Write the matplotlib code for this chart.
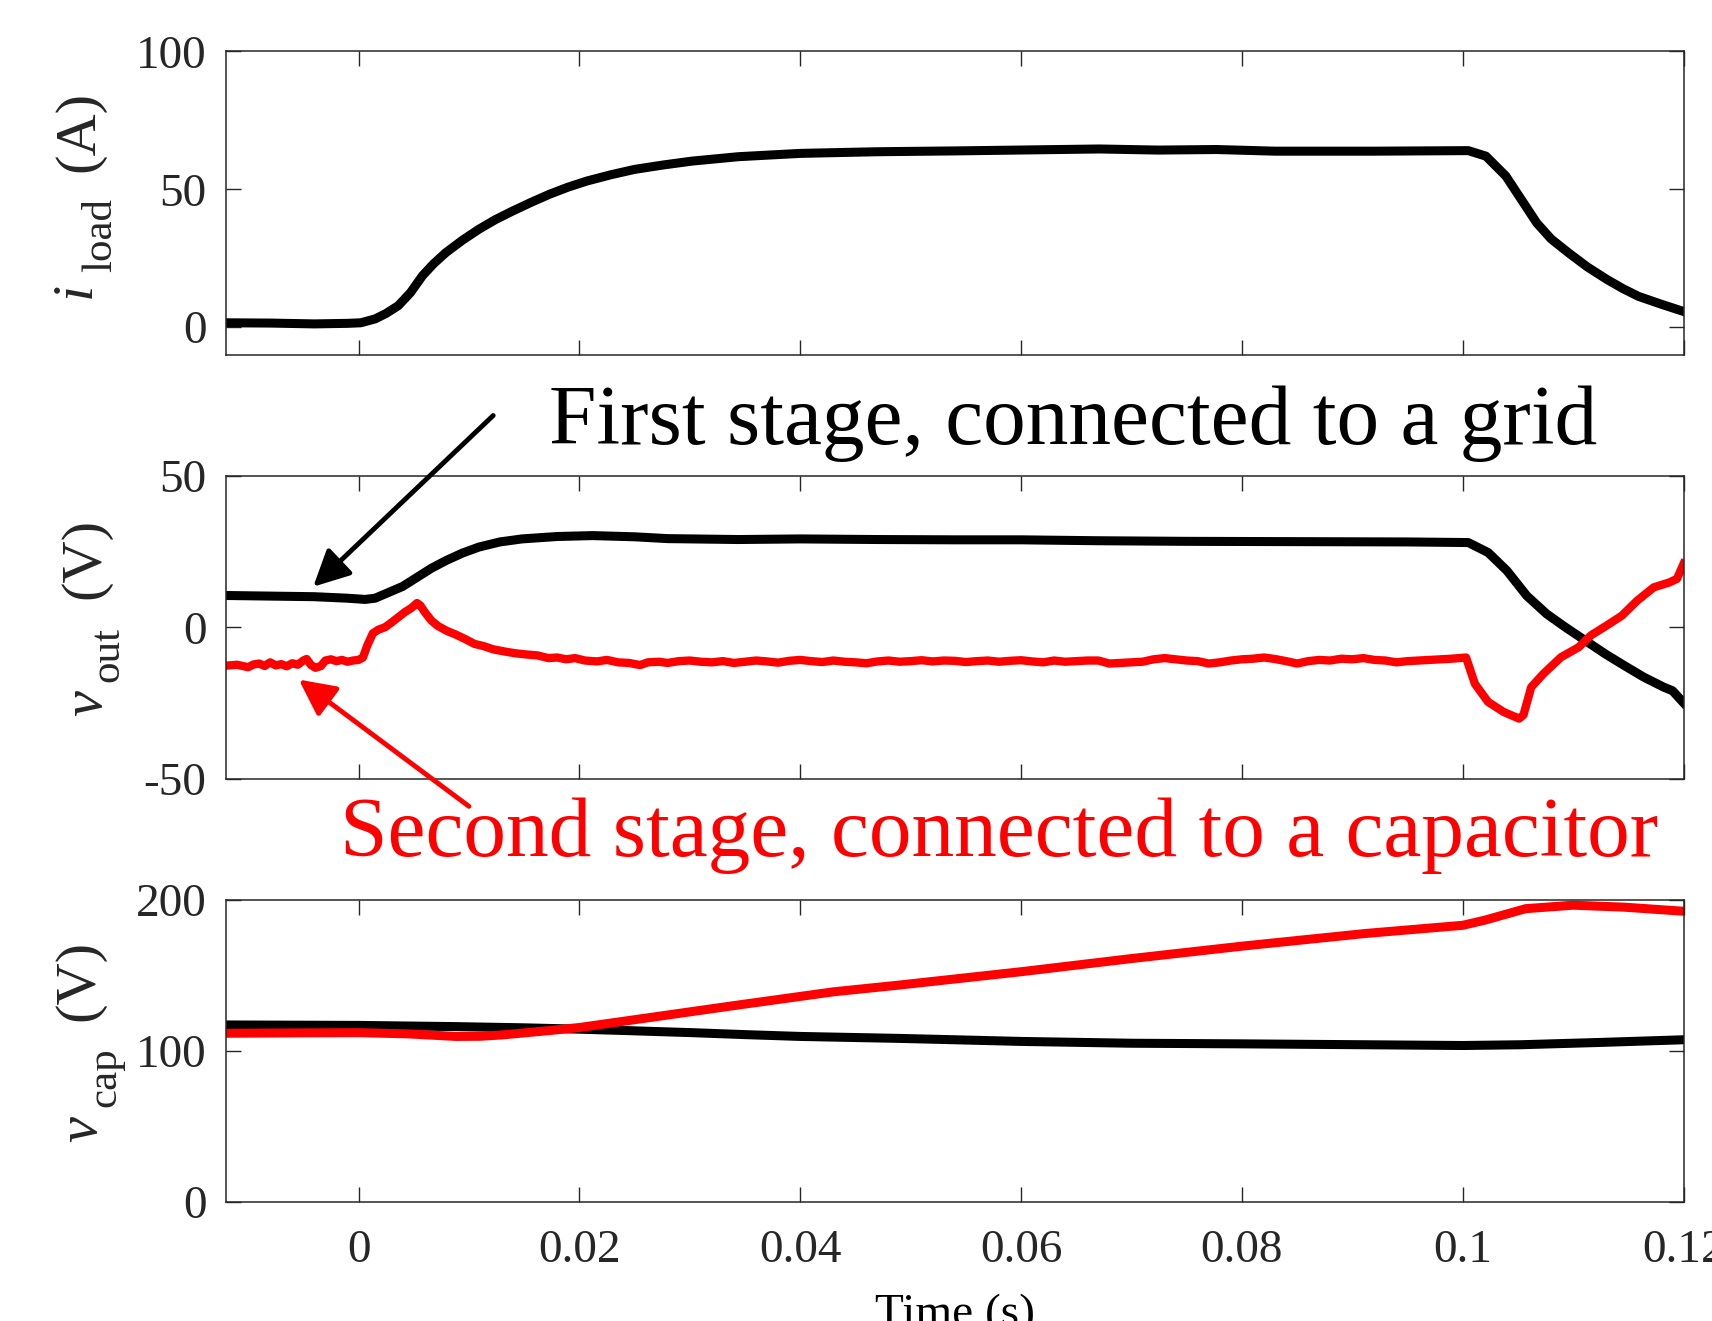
import matplotlib
matplotlib.use('Agg')
import matplotlib.pyplot as plt

plt.rcParams['font.family'] = ['Liberation Serif', 'DejaVu Serif']
plt.rcParams['axes.unicode_minus'] = False

# ---- data ----
# load current, first stage (A)
t_iload = [-0.012, -0.008, -0.004, -0.001, 0.0002, 0.0015, 0.0025, 0.0036, 0.0047, 0.0058,
           0.0068, 0.0079, 0.0094, 0.0109, 0.0124, 0.0139, 0.0156, 0.0173, 0.019, 0.0207,
           0.0228, 0.025, 0.0276, 0.0302, 0.0344, 0.04, 0.047, 0.0541, 0.0671, 0.0724,
           0.0777, 0.083, 0.092, 0.1005, 0.1021, 0.1039, 0.1053, 0.1067, 0.108, 0.1096,
           0.1113, 0.1131, 0.1145, 0.1159, 0.118, 0.12]
i_load = [1.6, 1.5, 1.2, 1.4, 1.6, 3.0, 5.0, 7.8, 12.5, 18.7,
          23.0, 27.0, 31.5, 35.5, 39.0, 42.0, 45.2, 48.2, 50.8, 53.0,
          55.2, 57.2, 58.8, 60.2, 61.8, 63.0, 63.6, 63.9, 64.6, 64.2,
          64.4, 63.8, 63.8, 64.0, 62.0, 54.8, 46.3, 37.8, 32.0, 26.9,
          21.8, 17.2, 14.0, 11.2, 8.3, 5.7]

# output voltage, first stage (V)
t_vout1 = [-0.012, -0.008, -0.004, -0.001, 0.0006, 0.0015, 0.0024, 0.004, 0.0053, 0.0066,
           0.0079, 0.0094, 0.0109, 0.0128, 0.0148, 0.018, 0.0212, 0.025, 0.028, 0.0344,
           0.04, 0.047, 0.054, 0.06, 0.067, 0.075, 0.085, 0.095, 0.1005, 0.1023,
           0.104, 0.1058, 0.1076, 0.1093, 0.1111, 0.1129, 0.1146, 0.1164, 0.1182, 0.119,
           0.12]
v_out1 = [10.5, 10.3, 10.1, 9.6, 9.2, 9.6, 11.0, 13.5, 16.5, 19.5,
          22.0, 24.5, 26.5, 28.2, 29.2, 30.0, 30.3, 29.9, 29.3, 29.0,
          29.2, 29.0, 28.9, 28.9, 28.6, 28.4, 28.3, 28.2, 28.0, 24.7,
          18.7, 10.4, 4.4, 0.0, -4.4, -8.8, -12.6, -16.5, -19.8, -21.0,
          -25.0]

# output voltage, second stage (V)
t_vout2 = [-0.012, -0.011, -0.010, -0.0095, -0.009, -0.0085, -0.008, -0.0075, -0.007, -0.0065,
           -0.006, -0.0055, -0.005, -0.0047, -0.0043, -0.0039, -0.0034, -0.003, -0.0025, -0.002,
           -0.0015, -0.001, -0.0005, 0.0, 0.0004, 0.0008, 0.0013, 0.0018, 0.0024, 0.003,
           0.0036, 0.0042, 0.0048, 0.0053, 0.0056, 0.006, 0.0066, 0.0072, 0.008, 0.0088,
           0.0096, 0.0105, 0.0113, 0.0122, 0.0132, 0.0142, 0.0152, 0.0162, 0.0172, 0.018,
           0.0188, 0.0196, 0.0205, 0.0216, 0.0225, 0.0235, 0.0245, 0.0255, 0.0262, 0.0272,
           0.028, 0.029, 0.030, 0.031, 0.032, 0.033, 0.034, 0.035, 0.036, 0.037,
           0.038, 0.039, 0.040, 0.041, 0.042, 0.043, 0.044, 0.045, 0.046, 0.047,
           0.048, 0.049, 0.050, 0.051, 0.052, 0.053, 0.054, 0.055, 0.056, 0.057,
           0.058, 0.059, 0.060, 0.061, 0.062, 0.063, 0.064, 0.065, 0.066, 0.067,
           0.068, 0.069, 0.070, 0.071, 0.072, 0.073, 0.074, 0.075, 0.076, 0.077,
           0.078, 0.079, 0.080, 0.081, 0.082, 0.083, 0.084, 0.085, 0.086, 0.087,
           0.088, 0.089, 0.090, 0.091, 0.092, 0.093, 0.094, 0.095, 0.096, 0.097,
           0.098, 0.099, 0.1003, 0.1011, 0.1023, 0.1037, 0.1051, 0.1055, 0.1062, 0.1073,
           0.1089, 0.1105, 0.1116, 0.113, 0.1144, 0.1158, 0.1173, 0.1187, 0.1194, 0.1197,
           0.120]
v_out2 = [-12.7, -12.4, -13.2, -12.3, -12.0, -12.8, -11.6, -12.6, -12.2, -12.9,
          -11.9, -12.4, -11.0, -10.5, -12.5, -13.4, -12.8, -11.0, -10.6, -11.2,
          -10.8, -11.4, -11.0, -10.8, -10.0, -6.0, -2.0, -0.8, 0.0, 1.6,
          3.3, 5.0, 6.4, 8.0, 7.2, 5.0, 2.2, 0.4, -1.2, -2.4,
          -3.8, -5.5, -6.2, -7.3, -8.0, -8.6, -9.0, -9.3, -10.2, -10.0,
          -10.6, -10.2, -11.0, -11.3, -10.8, -11.6, -11.8, -12.5, -11.6, -11.4,
          -11.8, -11.2, -11.0, -11.4, -11.6, -11.2, -11.8, -11.4, -11.0, -11.3,
          -11.7, -11.1, -10.8, -11.2, -11.5, -11.0, -11.4, -11.6, -11.9, -11.3,
          -11.0, -11.4, -11.2, -10.9, -11.3, -11.0, -11.1, -11.5, -11.2, -11.0,
          -11.4, -11.1, -10.9, -11.3, -11.6, -11.0, -11.4, -11.2, -11.0, -11.0,
          -12.0, -11.8, -11.6, -11.4, -10.6, -10.2, -10.6, -11.0, -11.2, -12.0,
          -11.6, -11.0, -10.6, -10.4, -10.0, -10.5, -11.2, -12.0, -11.2, -10.8,
          -11.0, -10.4, -10.6, -10.2, -10.8, -11.0, -11.6, -11.2, -11.0, -10.8,
          -10.6, -10.4, -10.0, -18.7, -24.7, -28.0, -30.2, -29.0, -19.8, -15.4,
          -9.9, -6.6, -2.7, 0.5, 3.8, 8.8, 13.2, 14.8, 16.0, 18.5,
          21.0]

# capacitor voltage (V)
t_vcap1 = [-0.012, 0.0, 0.0088, 0.015, 0.02, 0.025, 0.0302, 0.035, 0.04, 0.049,
           0.054, 0.06, 0.07, 0.08, 0.0912, 0.1, 0.1052, 0.1123, 0.12]
v_cap1 = [117.1, 116.8, 116.0, 115.2, 114.3, 113.2, 112.0, 110.7, 109.5, 108.2,
          107.3, 106.2, 105.0, 104.6, 104.0, 103.5, 104.0, 105.5, 107.3]

t_vcap2 = [-0.012, -0.004, 0.0, 0.0045, 0.0088, 0.011, 0.013, 0.0173, 0.02, 0.0259,
           0.0344, 0.043, 0.049, 0.054, 0.06, 0.07, 0.08, 0.0912, 0.1, 0.102,
           0.1057, 0.11, 0.1146, 0.12]
v_cap2 = [111.6, 111.9, 112.0, 111.2, 109.5, 109.6, 110.5, 113.4, 115.4, 121.5,
          130.3, 139.0, 143.5, 147.5, 152.3, 161.0, 169.2, 177.6, 183.0, 186.4,
          194.0, 196.3, 195.0, 192.3]

x_ticks = [0, 0.02, 0.04, 0.06, 0.08, 0.1, 0.12]
x_ticklabels = ['0', '0.02', '0.04', '0.06', '0.08', '0.1', '0.12']

W, H = 1712, 1321
fig = plt.figure(figsize=(W / 100, H / 100), dpi=100)

left = 226 / W
width = (1683.6 - 226) / W
ax1 = fig.add_axes([left, 1 - 354.8 / H, width, 303.5 / H])
ax2 = fig.add_axes([left, 1 - 778.5 / H, width, 302.5 / H])
ax3 = fig.add_axes([left, 1 - 1202 / H, width, 302.4 / H])

spine_c = '#262626'
lw = 6.5
for ax in (ax1, ax2, ax3):
    ax.set_xlim(-0.012, 0.12)
    ax.set_xticks(x_ticks)
    ax.tick_params(direction='in', length=10.5, width=1.0, colors=spine_c,
                   labelsize=34, top=True, right=True, pad=14)
    for s in ax.spines.values():
        s.set_color(spine_c)
        s.set_linewidth(1.1)

ax1.plot(t_iload, i_load, color='k', lw=lw)
ax1.set_ylim(-10, 100)
ax1.set_yticks([0, 50, 100])
ax1.set_xticklabels([])

ax2.plot(t_vout1, v_out1, color='k', lw=lw)
ax2.plot(t_vout2, v_out2, color='#ff0000', lw=6)
ax2.set_ylim(-50, 50)
ax2.set_yticks([-50, 0, 50])
ax2.set_xticklabels([])

ax3.plot(t_vcap1, v_cap1, color='k', lw=lw)
ax3.plot(t_vcap2, v_cap2, color='#ff0000', lw=lw)
ax3.set_ylim(0, 200)
ax3.set_yticks([0, 100, 200])
ax3.set_xticklabels(x_ticklabels)
ax3.tick_params(axis='x', pad=20)
ax3.set_xlabel('Time (s)', fontsize=34, labelpad=15)


# y labels built from pieces: italic symbol, lowered subscript, unit
def ylabel_parts(sym, sub, unit, p_sym, p_sub, p_unit):
    kw = dict(rotation=90, ha='center', va='center', color='#262626')
    fig.text(p_sym[0] / W, 1 - p_sym[1] / H, sym, fontsize=42, fontstyle='italic', **kw)
    fig.text(p_sub[0] / W, 1 - p_sub[1] / H, sub, fontsize=31, **kw)
    fig.text(p_unit[0] / W, 1 - p_unit[1] / H, unit, fontsize=42, **kw)


ylabel_parts('i', 'load', '(A)', (76, 290), (101, 235), (79, 131))
ylabel_parts('v', 'out', '(V)', (87, 703), (108, 654), (85, 558))
ylabel_parts('v', 'cap', '(V)', (82, 1129), (105, 1077), (79, 980))

# annotations
ax2.annotate('', xy=(-0.0041, 13.4), xytext=(0.0122, 70.0),
             arrowprops=dict(arrowstyle='-|>', color='k', lw=3.5, mutation_scale=55,
                             shrinkA=0, shrinkB=0),
             annotation_clip=False)
ax2.annotate('', xy=(-0.0054, -17.3), xytext=(0.0100, -59.2),
             arrowprops=dict(arrowstyle='-|>', color='#ff0000', lw=3.5, mutation_scale=55,
                             shrinkA=0, shrinkB=0),
             annotation_clip=False)
fig.text(549 / W, 1 - 444 / H, 'First stage, connected to a grid',
         fontsize=61.5, color='k', ha='left', va='baseline')
fig.text(340 / W, 1 - 856 / H, 'Second stage, connected to a capacitor',
         fontsize=61.5, color='#ff0000', ha='left', va='baseline')

fig.savefig('out.png', dpi=100)
